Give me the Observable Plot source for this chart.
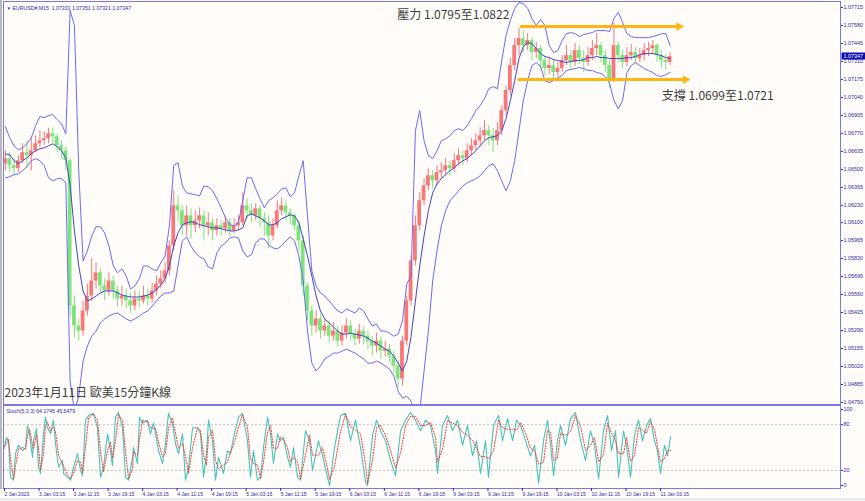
<!DOCTYPE html>
<html><head><meta charset="utf-8">
<script src="https://cdn.jsdelivr.net/npm/d3@7"></script>
<script src="https://cdn.jsdelivr.net/npm/@observablehq/plot@0.6"></script>
<style>
html,body{margin:0;padding:0;background:#fffcfa;width:865px;height:501px;overflow:hidden;}
#wrap{position:relative;width:865px;height:501px;}
#main{position:absolute;left:0;top:0;}
#stoch{position:absolute;left:0;top:405px;}
#strip{position:absolute;left:0;top:0;width:2px;height:489px;background:#b9b9b9;}
#foot{position:absolute;left:0;top:498px;width:865px;height:3px;background:#ececec;}
svg{overflow:visible}
</style></head><body>
<div id="wrap"><div id="strip"></div><div id="main"></div><div id="stoch"></div><div id="foot"></div></div>
<script>
// ---------- data (hourly samples of the EURUSD M15 chart) ----------
const openPrice = [
1.06542,1.06580,1.06527,1.06505,1.06565,1.06625,1.06602,1.06640,1.06692,1.06715,
1.06730,1.06767,1.06745,1.06677,1.06640,1.06565,1.05474,1.05324,1.05286,1.05437,
1.05549,1.05662,1.05723,1.05624,1.05587,1.05662,1.05587,1.05527,1.05549,1.05512,
1.05474,1.05527,1.05512,1.05549,1.05527,1.05587,1.05639,1.05678,1.05738,1.05925,
1.06226,1.06189,1.06076,1.06151,1.06076,1.06114,1.06151,1.06076,1.06099,1.06038,
1.06076,1.06054,1.06099,1.06038,1.06076,1.06099,1.06226,1.06189,1.06151,1.06204,
1.06129,1.06099,1.06000,1.06076,1.06189,1.06226,1.06174,1.06151,1.06076,1.05963,
1.05624,1.05437,1.05324,1.05377,1.05286,1.05324,1.05248,1.05286,1.05211,1.05271,
1.05324,1.05263,1.05226,1.05286,1.05248,1.05211,1.05173,1.05211,1.05136,1.05151,
1.05098,1.05023,1.04926,1.05211,1.05512,1.05813,1.06076,1.06264,1.06376,1.06452,
1.06414,1.06475,1.06490,1.06527,1.06505,1.06565,1.06602,1.06580,1.06640,1.06677,
1.06715,1.06752,1.06790,1.06752,1.06715,1.06790,1.06941,1.07091,1.07279,1.07429,
1.07482,1.07429,1.07467,1.07377,1.07407,1.07317,1.07257,1.07279,1.07227,1.07257,
1.07317,1.07354,1.07302,1.07392,1.07332,1.07302,1.07354,1.07407,1.07429,1.07354,
1.07279,1.07182,1.07429,1.07354,1.07302,1.07354,1.07377,1.07332,1.07354,1.07392,
1.07407,1.07429,1.07354,1.07317,1.07302];
const closePrice = [
1.06580,1.06527,1.06505,1.06565,1.06625,1.06602,1.06640,1.06692,1.06715,1.06730,
1.06767,1.06745,1.06677,1.06640,1.06565,1.05474,1.05324,1.05286,1.05437,1.05549,
1.05662,1.05723,1.05624,1.05587,1.05662,1.05587,1.05527,1.05549,1.05512,1.05474,
1.05527,1.05512,1.05549,1.05527,1.05587,1.05639,1.05678,1.05738,1.05925,1.06226,
1.06189,1.06076,1.06151,1.06076,1.06114,1.06151,1.06076,1.06099,1.06038,1.06076,
1.06054,1.06099,1.06038,1.06076,1.06099,1.06226,1.06189,1.06151,1.06204,1.06129,
1.06099,1.06000,1.06076,1.06189,1.06226,1.06174,1.06151,1.06076,1.05963,1.05624,
1.05437,1.05324,1.05377,1.05286,1.05324,1.05248,1.05286,1.05211,1.05271,1.05324,
1.05263,1.05226,1.05286,1.05248,1.05211,1.05173,1.05211,1.05136,1.05151,1.05098,
1.05023,1.04926,1.05211,1.05512,1.05813,1.06076,1.06264,1.06376,1.06452,1.06414,
1.06475,1.06490,1.06527,1.06505,1.06565,1.06602,1.06580,1.06640,1.06677,1.06715,
1.06752,1.06790,1.06752,1.06715,1.06790,1.06941,1.07091,1.07279,1.07429,1.07482,
1.07429,1.07467,1.07377,1.07407,1.07317,1.07257,1.07279,1.07227,1.07257,1.07317,
1.07354,1.07302,1.07392,1.07332,1.07302,1.07354,1.07407,1.07429,1.07354,1.07279,
1.07182,1.07429,1.07354,1.07302,1.07354,1.07377,1.07332,1.07354,1.07392,1.07407,
1.07429,1.07354,1.07317,1.07302,1.07347];
const highPrice = [
1.06640,1.06625,1.06580,1.06602,1.06692,1.06715,1.06737,1.06752,1.06790,1.06782,
1.06806,1.06813,1.06767,1.06715,1.06670,1.06580,1.05549,1.05377,1.05512,1.05639,
1.05828,1.05798,1.05753,1.05678,1.05723,1.05700,1.05624,1.05624,1.05602,1.05572,
1.05587,1.05587,1.05624,1.05602,1.05647,1.05700,1.05738,1.05798,1.05963,1.06339,
1.06301,1.06226,1.06226,1.06204,1.06189,1.06211,1.06189,1.06174,1.06129,1.06129,
1.06114,1.06144,1.06129,1.06129,1.06151,1.06324,1.06279,1.06241,1.06241,1.06226,
1.06174,1.06151,1.06129,1.06264,1.06286,1.06264,1.06204,1.06166,1.06114,1.06000,
1.05647,1.05474,1.05437,1.05414,1.05377,1.05362,1.05347,1.05324,1.05324,1.05377,
1.05362,1.05302,1.05339,1.05317,1.05286,1.05248,1.05271,1.05241,1.05211,1.05188,
1.05136,1.05061,1.05248,1.05549,1.05850,1.06151,1.06324,1.06430,1.06505,1.06490,
1.06527,1.06550,1.06580,1.06565,1.06617,1.06655,1.06640,1.06692,1.06730,1.06767,
1.06813,1.06866,1.06828,1.06806,1.06851,1.06978,1.07128,1.07332,1.07482,1.07558,
1.07542,1.07519,1.07489,1.07452,1.07429,1.07354,1.07332,1.07317,1.07302,1.07354,
1.07429,1.07392,1.07444,1.07429,1.07392,1.07414,1.07467,1.07519,1.07452,1.07392,
1.07317,1.07595,1.07452,1.07392,1.07414,1.07437,1.07414,1.07407,1.07444,1.07452,
1.07467,1.07444,1.07392,1.07362,1.07377];
const lowPrice = [
1.06490,1.06475,1.06452,1.06475,1.06542,1.06505,1.06490,1.06625,1.06662,1.06677,
1.06692,1.06700,1.06625,1.06580,1.06490,1.05399,1.05233,1.05211,1.05248,1.05399,
1.05512,1.05602,1.05572,1.05512,1.05549,1.05527,1.05467,1.05474,1.05452,1.05422,
1.05437,1.05459,1.05489,1.05474,1.05497,1.05549,1.05602,1.05639,1.05700,1.05888,
1.06099,1.06000,1.06000,1.05978,1.06023,1.06054,1.05963,1.06000,1.05963,1.06000,
1.06000,1.06023,1.05993,1.06015,1.06038,1.06076,1.06129,1.06099,1.06114,1.06061,
1.06000,1.05903,1.05963,1.06054,1.06151,1.06114,1.06084,1.06038,1.05888,1.05549,
1.05362,1.05248,1.05271,1.05226,1.05248,1.05196,1.05211,1.05166,1.05173,1.05226,
1.05211,1.05173,1.05188,1.05181,1.05151,1.05098,1.05121,1.05076,1.05091,1.05046,
1.04971,1.04857,1.04872,1.05173,1.05474,1.05775,1.06038,1.06226,1.06339,1.06354,
1.06376,1.06430,1.06452,1.06445,1.06475,1.06527,1.06527,1.06550,1.06602,1.06640,
1.06677,1.06715,1.06677,1.06625,1.06677,1.06752,1.06903,1.07053,1.07242,1.07354,
1.07377,1.07392,1.07317,1.07332,1.07257,1.07204,1.07212,1.07182,1.07197,1.07227,
1.07279,1.07242,1.07272,1.07287,1.07227,1.07272,1.07317,1.07354,1.07302,1.07227,
1.07106,1.07151,1.07302,1.07257,1.07272,1.07317,1.07294,1.07302,1.07317,1.07347,
1.07362,1.07302,1.07257,1.07242,1.07279];
const upperBand = [
1.06821,1.06737,1.06677,1.06647,1.06662,1.06692,1.06737,1.06828,1.06896,1.06888,
1.06903,1.06911,1.06873,1.06843,1.06767,1.07693,1.07580,1.06490,1.05813,1.05888,
1.06000,1.06069,1.06069,1.06023,1.05925,1.05775,1.05723,1.05753,1.05700,1.05602,
1.05624,1.05678,1.05775,1.05775,1.05753,1.05738,1.05798,1.05850,1.06076,1.06527,
1.06550,1.06376,1.06324,1.06316,1.06309,1.06301,1.06376,1.06369,1.06339,1.06279,
1.06211,1.06136,1.06084,1.06076,1.06099,1.06264,1.06437,1.06437,1.06354,1.06279,
1.06211,1.06264,1.06286,1.06316,1.06354,1.06361,1.06294,1.06324,1.06452,1.06565,
1.06151,1.05738,1.05624,1.05572,1.05549,1.05512,1.05474,1.05437,1.05422,1.05452,
1.05437,1.05422,1.05459,1.05437,1.05377,1.05324,1.05339,1.05286,1.05286,1.05271,
1.05248,1.05263,1.05362,1.05639,1.05700,1.06790,1.06941,1.06715,1.06602,1.06580,
1.06640,1.06715,1.06730,1.06752,1.06790,1.06806,1.06790,1.06828,1.06881,1.06941,
1.06978,1.07031,1.07106,1.07121,1.07106,1.07317,1.07505,1.07618,1.07708,1.07753,
1.07745,1.07708,1.07633,1.07580,1.07625,1.07580,1.07429,1.07377,1.07392,1.07467,
1.07519,1.07527,1.07519,1.07497,1.07512,1.07519,1.07527,1.07542,1.07542,1.07542,
1.07534,1.07633,1.07678,1.07603,1.07519,1.07497,1.07489,1.07489,1.07489,1.07489,
1.07497,1.07505,1.07519,1.07519,1.07429];
const middleBand = [
1.06617,1.06610,1.06565,1.06542,1.06565,1.06587,1.06617,1.06640,1.06655,1.06662,
1.06677,1.06692,1.06670,1.06640,1.06587,1.06376,1.06038,1.05775,1.05587,1.05512,
1.05527,1.05549,1.05572,1.05587,1.05587,1.05587,1.05572,1.05557,1.05549,1.05542,
1.05542,1.05542,1.05549,1.05557,1.05572,1.05595,1.05632,1.05678,1.05775,1.05925,
1.06023,1.06084,1.06099,1.06106,1.06099,1.06084,1.06076,1.06069,1.06061,1.06061,
1.06054,1.06046,1.06038,1.06038,1.06046,1.06061,1.06151,1.06166,1.06151,1.06136,
1.06114,1.06084,1.06084,1.06099,1.06129,1.06144,1.06159,1.06151,1.06099,1.05978,
1.05850,1.05700,1.05549,1.05437,1.05377,1.05347,1.05317,1.05286,1.05263,1.05263,
1.05271,1.05263,1.05256,1.05248,1.05233,1.05211,1.05196,1.05173,1.05151,1.05136,
1.05098,1.05046,1.04986,1.05061,1.05248,1.05512,1.05775,1.06000,1.06189,1.06324,
1.06391,1.06430,1.06460,1.06490,1.06512,1.06542,1.06565,1.06580,1.06610,1.06640,
1.06677,1.06715,1.06737,1.06745,1.06752,1.06790,1.06881,1.07016,1.07166,1.07332,
1.07422,1.07452,1.07444,1.07407,1.07369,1.07347,1.07339,1.07324,1.07317,1.07309,
1.07302,1.07309,1.07317,1.07317,1.07324,1.07339,1.07339,1.07347,1.07339,1.07339,
1.07332,1.07332,1.07332,1.07332,1.07339,1.07339,1.07347,1.07362,1.07369,1.07369,
1.07369,1.07362,1.07354,1.07339,1.07332];
const lowerBand = [
1.06437,1.06445,1.06460,1.06467,1.06490,1.06520,1.06565,1.06580,1.06565,1.06527,
1.06437,1.06414,1.06430,1.06430,1.06399,1.04910,1.04685,1.04798,1.05061,1.05173,
1.05248,1.05286,1.05347,1.05377,1.05399,1.05414,1.05422,1.05399,1.05377,1.05362,
1.05377,1.05399,1.05422,1.05437,1.05474,1.05512,1.05549,1.05572,1.05572,1.05587,
1.05775,1.05963,1.05993,1.05925,1.05873,1.05843,1.05828,1.05768,1.05753,1.05873,
1.05925,1.05948,1.05985,1.05993,1.05985,1.05888,1.05843,1.05858,1.05948,1.05978,
1.05978,1.05933,1.05910,1.05903,1.05925,1.05963,1.05993,1.05963,1.05850,1.05662,
1.05286,1.05046,1.04986,1.05023,1.05076,1.05098,1.05121,1.05121,1.05136,1.05151,
1.05136,1.05121,1.05098,1.05076,1.05046,1.05046,1.05061,1.05046,1.05023,1.05001,
1.04948,1.04835,1.04783,1.04798,1.04760,1.04648,1.04685,1.04986,1.05286,1.05662,
1.05888,1.06076,1.06189,1.06264,1.06301,1.06339,1.06376,1.06399,1.06414,1.06430,
1.06452,1.06490,1.06527,1.06542,1.06490,1.06414,1.06339,1.06414,1.06565,1.06790,
1.07016,1.07166,1.07279,1.07302,1.07272,1.07166,1.07151,1.07166,1.07189,1.07204,
1.07242,1.07249,1.07257,1.07264,1.07257,1.07242,1.07242,1.07227,1.07219,1.07197,
1.07144,1.07016,1.06956,1.07016,1.07227,1.07279,1.07302,1.07279,1.07257,1.07242,
1.07227,1.07204,1.07197,1.07212,1.07227];

// stochastic (5,3,3): position in 15-minute bars, %K main, %D signal
const stochBar = [
0,2.8,4.6,6.5,9.3,11.1,13.9,17.6,20.4,22.2,24.1,26.9,27.8,30.6,32.4,34.3,37.1,38.9,40.8,43.6,
46.3,48.2,51.0,54.7,55.6,59.3,62.1,64.9,68.6,71.4,73.2,76.0,78.8,83.4,87.1,89.9,92.7,96.4,99.2,101.0,
103.8,106.6,110.3,113.1,115.9,119.6,120.5,124.2,126.0,128.8,133.5,136.2,139.0,140.9,143.7,147.4,150.1,152.9,156.6,159.4,
162.2,165.9,168.7,171.5,175.2,179.8,182.6,185.4,188.1,190.0,193.7,196.5,199.3,203.9,207.6,210.4,213.2,217.8,221.5,226.1,
228.9,231.7,235.4,238.2,241.0,244.7,247.5,250.2,254.0,256.7,259.5,263.2,266.0,268.8,272.5,275.3,279.9,283.6,286.4,291.9,
295.6,299.4,302.2,306.8,312.3,317.0,321.6,326.2,330.9,335.5,337.4,342.0,345.7,349.4,354.0,358.7,363.3,368.0,372.6,377.2,
381.9,386.5,391.1,395.7,400.4,402.2,406.9,411.5,416.1,420.8,425.4,430.0,434.7,438.4,442.1,446.7,449.5,454.1,458.8,462.5,
467.1,471.8,475.5,479.2,483.8,488.4,492.2,495.9,500.5,504.2,507.0,509.8,513.4,516.2,520.9,525.5,530.1,534.8,539.4,544.0,
547.8,551.5,556.1,559.8,563.5,567.2,570.0,574.6,577.4,581.1,584.8,588.5,592.2,595.9,599.6,603.3,606.0,608.9,612.6,615.4,
618.2];
const stochMain = [
46,63,59,11,7,42,53,46,50,79,68,37,59,75,24,16,68,90,76,68,
86,55,24,33,16,11,7,24,42,20,13,86,92,95,76,11,24,68,46,26,
90,96,76,11,7,37,50,29,90,82,86,68,82,68,46,29,55,95,82,55,
42,68,7,24,76,76,68,11,42,86,59,7,37,16,46,42,63,90,95,59,
11,46,7,11,50,90,68,29,68,59,63,37,24,50,11,7,72,60,20,59,
40,16,0,50,92,95,59,86,50,5,0,66,86,72,59,33,13,72,86,96,
86,72,86,79,46,16,79,92,72,86,53,79,39,59,16,59,11,79,92,59,
88,59,86,79,59,39,53,3,59,86,53,13,59,79,53,88,96,59,33,72,
53,9,72,92,46,72,11,72,53,11,66,86,59,79,88,59,46,16,53,39,
64];
const stochSignal = [
50,55,61,35,9,25,48,50,48,65,74,53,48,67,50,20,42,79,83,72,
77,71,40,29,25,14,9,16,33,31,17,50,89,94,86,44,18,46,57,36,
58,93,86,44,9,22,44,40,60,86,84,77,75,75,57,38,42,75,89,69,
49,55,38,16,50,76,72,40,27,64,73,33,22,27,31,44,53,77,93,77,
35,29,27,9,31,70,79,49,49,64,61,50,31,37,31,9,40,66,40,40,
50,28,8,25,71,94,77,73,68,28,3,33,76,79,66,46,23,43,79,91,
91,79,79,83,63,31,48,86,82,79,70,66,59,49,38,38,35,45,86,76,
74,74,73,83,69,49,46,28,31,73,70,33,36,69,66,71,92,78,46,53,
63,31,41,82,69,59,42,42,63,32,39,76,73,69,84,74,53,31,35,46,
46];

const priceTicks = [1.07715,1.07580,1.07445,1.07310,1.07175,1.07040,1.06905,1.06770,1.06635,1.06500,1.06365,1.06230,1.06100,1.05965,1.05830,1.05695,1.05560,1.05425,1.05290,1.05155,1.05020,1.04885,1.04750];
const timeTickLabels = ["2 Jan 2023","3 Jan 03:15","3 Jan 11:15","3 Jan 19:15","4 Jan 03:15","4 Jan 11:15","4 Jan 19:15","5 Jan 03:15","5 Jan 11:15","5 Jan 19:15","6 Jan 03:15","6 Jan 11:15","6 Jan 19:15","9 Jan 03:15","9 Jan 11:15","9 Jan 19:15","10 Jan 03:15","10 Jan 11:15","10 Jan 19:15","11 Jan 03:15"];
const stochLevels = [20, 80];
const stochTicks = [0, 20, 80, 100];

// annotated price zones (orange arrows)
const zoneLevels = [1.07572, 1.07174];
const zoneStartBar = [479, 477];
const zoneEndBar = [629, 635];

const symbolHeader = "EURUSD#,M15  1.07331 1.07351 1.07321 1.07347";
const stochHeader = "Stoch(5,3,3) 64.1745 45.5479";
const resistanceLabel = "壓力 1.0795至1.0822";
const supportLabel = "支撐 1.0699至1.0721";
const captionLabel = "2023年1月11日 歐美15分鐘K線";

// ---------- styling ----------
const BAR_MAX = 775.7;          // visible width in 15-minute bars
const BARS_PER_SAMPLE = 4;      // hourly samples
const UP = "#f77878", DOWN = "#7be47b";
const BAND = "#6b6bf2", MID = "#4444c4";
const FRAME = "#7a7ae4", NAVY = "#2c2ca6";
const ORANGE = "#ffb414";
const AXIS_FONT = "'Liberation Sans', Arial, sans-serif";
const CJK_FONT = "'Noto Sans CJK TC', 'Noto Sans CJK SC', sans-serif";

const candles = closePrice.map((c, i) => ({
  xm: i * BARS_PER_SAMPLE + 1.75,
  x1: i * BARS_PER_SAMPLE,
  x2: i * BARS_PER_SAMPLE + 3.5,
  o: openPrice[i], h: highPrice[i], l: lowPrice[i], c,
  col: c >= openPrice[i] ? UP : DOWN,
  ub: upperBand[i], mb: middleBand[i], lb: lowerBand[i]
}));
const stochRows = stochBar.map((b, i) => ({bar: b, k: stochMain[i], d: stochSignal[i]}));
const zones = zoneLevels.map((p, i) => ({p, x1: zoneStartBar[i], x2: zoneEndBar[i]}));
const lastClose = closePrice[closePrice.length - 1];
const timeTickBars = timeTickLabels.map((_, i) => i * 32);
const labelByBar = new Map(timeTickBars.map((b, i) => [b, timeTickLabels[i]]));

const main = Plot.plot({
  width: 865, height: 405,
  marginLeft: 3, marginRight: 25, marginTop: 1, marginBottom: 1,
  style: {background: "transparent", fontFamily: AXIS_FONT, overflow: "visible"},
  x: {domain: [0, BAR_MAX], axis: null},
  y: {domain: [1.04735, 1.07760], axis: null},
  marks: [
    Plot.ruleX(candles, {x: "xm", y1: "l", y2: "h", stroke: "col", strokeWidth: 1, clip: true}),
    Plot.rect(candles, {x1: "x1", x2: "x2", y1: "o", y2: "c", fill: "col", clip: true}),
    Plot.line(candles, {x: "xm", y: "ub", stroke: BAND, strokeWidth: 1, clip: true}),
    Plot.line(candles, {x: "xm", y: "lb", stroke: BAND, strokeWidth: 1, clip: true}),
    Plot.line(candles, {x: "xm", y: "mb", stroke: MID, strokeWidth: 1, clip: true}),
    Plot.ruleY(zones, {y: "p", x1: "x1", x2: d => d.x2 - 3, stroke: ORANGE, strokeWidth: 3}),
    Plot.dot(zones, {x: d => d.x2 - 3, y: "p", symbol: "triangle2", rotate: 90, r: 4.2, fill: ORANGE, stroke: null}),
    Plot.text([resistanceLabel], {x: 365, y: 1.07657, text: d => d, textAnchor: "start", fontSize: 12, fontFamily: CJK_FONT, fill: "#3c3c3c"}),
    Plot.text([supportLabel], {x: 610, y: 1.07047, text: d => d, textAnchor: "start", fontSize: 12, fontFamily: CJK_FONT, fill: "#3c3c3c"}),
    Plot.text([captionLabel], {frameAnchor: "bottom-left", dx: 1, dy: -8, text: d => d, textAnchor: "start", fontSize: 12, fontFamily: CJK_FONT, fill: "#3c3c3c"}),
    Plot.text(["▼"], {frameAnchor: "top-left", dx: 3, dy: 5, text: d => d, fontSize: 4.5, fill: NAVY, textAnchor: "start"}),
    Plot.text([symbolHeader], {frameAnchor: "top-left", dx: 9, dy: 5, text: d => d, fontSize: 5.2, fill: NAVY, textAnchor: "start"}),
    Plot.frame({stroke: FRAME}),
    Plot.axisY({anchor: "right", label: null, ticks: priceTicks, tickFormat: d3.format(".5f"), tickSize: 2, tickPadding: 1, fontSize: 5.4, color: NAVY}),
    Plot.rect([lastClose], {x1: BAR_MAX, x2: BAR_MAX, y1: d => d, y2: d => d, insetLeft: 1.5, insetRight: -25, insetTop: -3.5, insetBottom: -3.5, fill: "#0c0cb0"}),
    Plot.text([lastClose], {x: BAR_MAX, y: d => d, text: d => d3.format(".5f")(d), dx: 3, textAnchor: "start", fill: "white", fontSize: 5.4})
  ]
});
document.getElementById("main").appendChild(main);

const stoch = Plot.plot({
  width: 865, height: 96,
  marginLeft: 3, marginRight: 25, marginTop: 0, marginBottom: 13,
  style: {background: "transparent", fontFamily: AXIS_FONT, overflow: "visible"},
  x: {domain: [0, BAR_MAX], axis: null, label: null},
  y: {domain: [-3.9, 105.3], axis: null, label: null},
  marks: [
    Plot.ruleY(stochLevels, {stroke: "#bdbdbd", strokeDasharray: "2,2", strokeWidth: 1}),
    Plot.line(stochRows, {x: "bar", y: "k", stroke: "#46c4b6", strokeWidth: 1.1}),
    Plot.line(stochRows, {x: "bar", y: "d", stroke: "#f03c3c", strokeWidth: 1, strokeDasharray: "1.2,1.6"}),
    Plot.frame({stroke: FRAME}),
    Plot.text([stochHeader], {frameAnchor: "top-left", dx: 3, dy: 4, text: d => d, fontSize: 5.2, fill: NAVY, textAnchor: "start"}),
    Plot.axisY({anchor: "right", label: null, ticks: stochTicks, tickFormat: d => String(d), tickSize: 2, tickPadding: 1, fontSize: 5.4, color: NAVY}),
    Plot.axisX({anchor: "bottom", label: null, ticks: timeTickBars, tickFormat: d => labelByBar.get(d), tickSize: 3, tickPadding: 0.5, textAnchor: "start", dx: 1, fontSize: 5, color: NAVY})
  ]
});
document.getElementById("stoch").appendChild(stoch);
</script>
</body></html>
